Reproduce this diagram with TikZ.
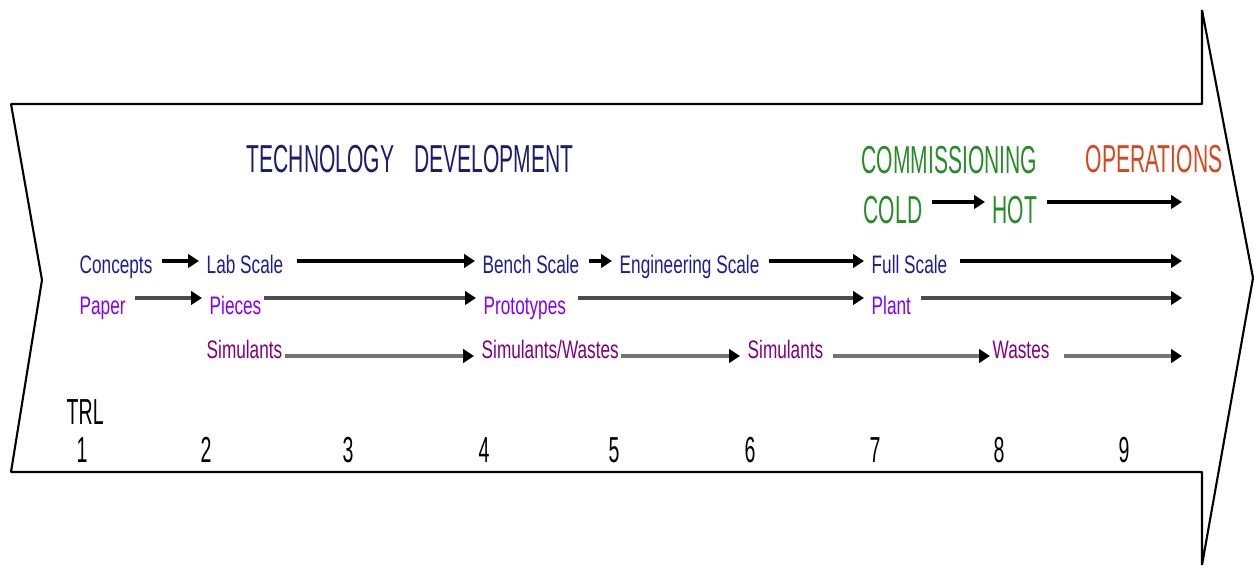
\documentclass[tikz,border=0pt]{standalone}
\usepackage{fontspec}
\setmainfont[FakeStretch=0.68]{Liberation Sans}
\newfontfamily\headfont[FakeStretch=0.54]{Liberation Sans}
\usetikzlibrary{arrows.meta}

\definecolor{techblue}{RGB}{28,28,110}
\definecolor{commgreen}{RGB}{40,140,40}
\definecolor{operred}{RGB}{215,70,30}
\definecolor{scaleblue}{RGB}{28,28,156}
\definecolor{formviolet}{RGB}{128,0,255}
\definecolor{feedpurple}{RGB}{128,0,128}

\tikzset{
  lbl/.style={anchor=base west, inner sep=0pt, font=\fontsize{7.2}{8.5}\selectfont},
  head/.style={anchor=base west, inner sep=0pt, font=\headfont\fontsize{11.1}{13}\selectfont},
  num/.style={anchor=base, inner sep=0pt, font=\headfont\fontsize{10.3}{12}\selectfont},
  blk/.style={line width=1.1pt, -{Triangle[length=1.1mm,width=1.35mm]}, shorten <=0.9mm, shorten >=0.7mm},
  gry/.style={blk, draw=black!#1, -{Triangle[length=1.1mm,width=1.35mm,color=black]}},
}

\begin{document}
\begin{tikzpicture}[x=0.1mm, y=-0.1mm]
	\useasboundingbox (0,0) rectangle (1254,569);
	% big arrow outline
	\draw [line width=0.6pt, line join=bevel](11,104)--(1202,104)--(1202,10)--(1253,278)--(1202,565)--(1202,472)--(11,472)--(42,280)--cycle;

	% phases
	\node [head, text=techblue] (tech) at (246,173) {TECHNOLOGY\hspace{2mm}DEVELOPMENT};
	\node [head, text=commgreen] (comm) at (861,174) {COMMISSIONING};
	\node [head, text=operred] (oper) at (1085,173) {OPERATIONS};
	\node [head, text=commgreen] (cold) at (863,224) {COLD};
	\node [head, text=commgreen] (hot) at (992,224) {HOT};

	% rows
	\node [lbl, text=scaleblue] (concepts) at (79,274) {Concepts};
	\node [lbl, text=scaleblue] (lab) at (206,274) {Lab Scale};
	\node [lbl, text=scaleblue] (bench) at (482,274) {Bench Scale};
	\node [lbl, text=scaleblue] (eng) at (619,274) {Engineering Scale};
	\node [lbl, text=scaleblue] (full) at (871,274) {Full Scale};

	\node [lbl, text=formviolet] (paper) at (79,315) {Paper};
	\node [lbl, text=formviolet] (pieces) at (209,315) {Pieces};
	\node [lbl, text=formviolet] (proto) at (483,315) {Prototypes};
	\node [lbl, text=formviolet] (plant) at (871,315) {Plant};

	\node [lbl, text=feedpurple] (simA) at (206,359) {Simulants};
	\node [lbl, text=feedpurple] (simW) at (481,359) {Simulants/Wastes};
	\node [lbl, text=feedpurple] (simB) at (747,359) {Simulants};
	\node [lbl, text=feedpurple] (wastes) at (992,359) {Wastes};

	\coordinate (r0) at (0,202);
	\coordinate (r1) at (0,261);
	\coordinate (r2) at (0,298);
	\coordinate (r3) at (0,356);
	\coordinate (e0) at (1182,202);
	\coordinate (e1) at (1182,261);
	\coordinate (e2) at (1182,298);
	\coordinate (e3) at (1182,356);

	\draw [blk] (cold.east |- r0)--(hot.west |- r0);
	\draw [blk, shorten >=0pt] (hot.east |- r0)--(e0);

	\draw [blk] (concepts.east |- r1)--(lab.west |- r1);
	\draw [blk, shorten <=1.3mm] (lab.east |- r1)--(bench.west |- r1);
	\draw [blk] (bench.east |- r1)--(eng.west |- r1);
	\draw [blk] (eng.east |- r1)--(full.west |- r1);
	\draw [blk, shorten >=0pt, shorten <=1.2mm] (full.east |- r1)--(e1);

	\draw [gry=70] (paper.east |- r2)--(pieces.west |- r2);
	\draw [gry=70, shorten <=0.2mm] (pieces.east |- r2)--(proto.west |- r2);
	\draw [gry=70, shorten <=1.1mm] (proto.east |- r2)--(plant.west |- r2);
	\draw [gry=70, shorten >=0pt] (plant.east |- r2)--(e2);

	\draw [gry=55, shorten <=0.2mm] (simA.east |- r3)--(simW.west |- r3);
	\draw [gry=55, shorten <=0.2mm] (simW.east |- r3)--(simB.west |- r3);
	\draw [gry=55, shorten >=0.2mm] (simB.east |- r3)--(wastes.west |- r3);
	\draw [gry=55, shorten >=0pt, shorten <=1.4mm] (wastes.east |- r3)--(e3);

	% TRL scale
	\node [head, font=\headfont\fontsize{10.3}{12}\selectfont] (trl) at (66,425) {TRL};
	\foreach \n/\x in {1/82, 2/206, 3/348, 4/484, 5/614, 6/750, 7/875, 8/999, 9/1124}
		\node [num] (t\n) at (\x,463) {\n};
\end{tikzpicture}
\end{document}
